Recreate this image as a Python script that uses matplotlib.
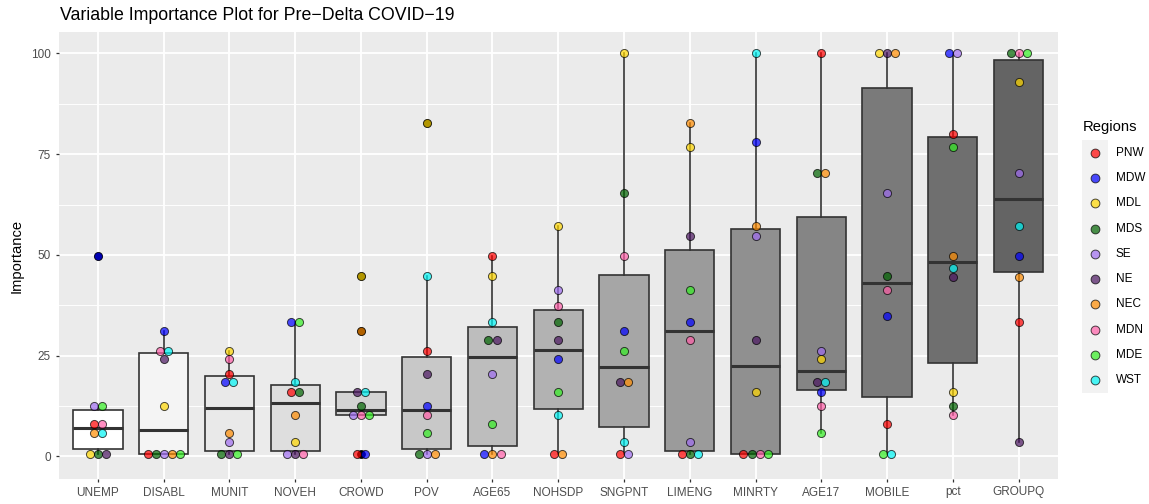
import matplotlib
matplotlib.use("Agg")
import matplotlib.pyplot as plt
import numpy as np

plt.rcParams["font.family"] = ["Liberation Sans", "DejaVu Sans"]

# ---- data -------------------------------------------------------------
categories = ["UNEMP", "DISABL", "MUNIT", "NOVEH", "CROWD", "POV", "AGE65",
              "NOHSDP", "SNGPNT", "LIMENG", "MINRTY", "AGE17", "MOBILE",
              "pct", "GROUPQ"]

regions = ["PNW", "MDW", "MDL", "MDS", "SE", "NE", "NEC", "MDN", "MDE", "WST"]
region_colors = ["#ff0000", "#0000ff", "#ffd700", "#006400", "#9f6cf0",
                 "#4a1560", "#ff8c00", "#ff5fa8", "#33ee22", "#00f5f5"]

# importance per region, in category order
pnw = [8.1, 0.6, 20.35, 15.96, 0.6, 26.05, 49.7, 0.6, 0.6, 0.6, 0.6, 100, 8.1, 80.0, 33.25]
mdw = [49.7, 31.1, 18.36, 33.25, 0.6, 12.5, 0.6, 24.07, 31.1, 33.25, 78.0, 15.96, 34.9, 100, 49.7]
mdl = [0.6, 12.5, 26.05, 3.6, 44.67, 82.8, 44.67, 57.15, 100, 76.75, 15.96, 24.07, 100, 15.96, 93.0]
mds = [0.6, 0.6, 0.6, 15.96, 12.5, 0.6, 28.8, 33.25, 65.4, 0.6, 0.6, 70.4, 44.67, 12.5, 100]
se = [12.5, 0.6, 3.6, 0.6, 10.4, 0.6, 20.35, 41.4, 0.6, 3.6, 54.6, 26.05, 65.4, 100, 70.4]
ne = [0.6, 24.07, 0.6, 0.6, 15.96, 20.35, 28.8, 28.8, 18.36, 54.6, 28.8, 18.36, 100, 44.6, 3.6]
nec = [5.9, 0.6, 5.9, 10.4, 31.1, 0.6, 0.6, 0.6, 18.36, 82.8, 57.15, 70.4, 100, 49.7, 44.6]
mdn = [8.1, 26.05, 24.07, 0.6, 10.4, 10.4, 0.6, 37.3, 49.7, 28.8, 0.6, 12.5, 41.4, 10.4, 100]
mde = [12.5, 0.6, 0.6, 33.25, 10.4, 5.9, 8.1, 15.96, 26.05, 41.4, 0.6, 5.9, 0.6, 76.75, 100]
wst = [5.9, 26.05, 18.36, 18.36, 15.96, 44.67, 33.25, 10.4, 3.6, 0.6, 100, 18.36, 0.6, 46.65, 57.15]

values = np.array([pnw, mdw, mdl, mds, se, ne, nec, mdn, mde, wst])
n_reg, n_cat = values.shape

# ---- figure -----------------------------------------------------------
W, H = 1149, 504
fig = plt.figure(figsize=(W / 100, H / 100), dpi=100)
px_l, px_r, px_t, px_b = 58.5, 1058, 32, 479
ax = fig.add_axes([px_l / W, 1 - px_b / H, (px_r - px_l) / W, (px_b - px_t) / H])
ax.set_facecolor("#EBEBEB")
for s in ax.spines.values():
    s.set_visible(False)

ax.set_xlim(-0.6, n_cat - 0.4)
ax.set_ylim(-5.6, 105.3)
ax.set_yticks([0, 25, 50, 75, 100])
ax.set_yticks([12.5, 37.5, 62.5, 87.5], minor=True)
ax.set_xticks(range(n_cat))
ax.set_xticklabels(categories)
ax.grid(which="major", color="white", lw=1.3)
ax.grid(which="minor", axis="y", color="white", lw=0.65)
ax.set_axisbelow(True)
ax.tick_params(which="major", length=2.4, width=0.9, color="#333333",
               labelcolor="#4D4D4D", labelsize=8.5, pad=3)
ax.tick_params(which="minor", length=0)

# ---- boxes ------------------------------------------------------------
greys = np.linspace(255, 100, n_cat) / 255.0
bp = ax.boxplot([values[:, j] for j in range(n_cat)], positions=range(n_cat),
                widths=0.75, patch_artist=True, showcaps=False, whis=1.5,
                manage_ticks=False,
                flierprops=dict(marker="o", markerfacecolor="black",
                                markeredgecolor="black", markersize=5),
                medianprops=dict(color="#333333", lw=2.2),
                boxprops=dict(edgecolor="#333333", lw=1.2),
                whiskerprops=dict(color="#333333", lw=1.2))
for patch, g in zip(bp["boxes"], greys):
    patch.set_facecolor((g, g, g))

# ---- points, spread sideways where values coincide ---------------------
step = 0.122
offsets = np.zeros_like(values, dtype=float)
for j in range(n_cat):
    col = values[:, j]
    order = np.argsort(col, kind="stable")
    groups, cur = [], [order[0]]
    for k in order[1:]:
        if abs(col[k] - col[cur[-1]]) < 1.0:
            cur.append(k)
        else:
            groups.append(cur)
            cur = [k]
    groups.append(cur)
    for g in groups:
        g = sorted(g)
        for i, k in enumerate(g):
            offsets[k, j] = (i - (len(g) - 1) / 2) * step

xs = np.arange(n_cat)
for r in range(n_reg):
    ax.scatter(xs + offsets[r], values[r], s=34, color=region_colors[r],
               alpha=0.7, edgecolors="black", linewidths=0.7, zorder=3)

# ---- text -------------------------------------------------------------
fig.text(60 / W, 1 - 20 / H, "Variable Importance Plot for Pre\u2212Delta COVID\u221219",
         fontsize=12.8, va="baseline", ha="left", color="black")
fig.text(17 / W, 1 - (px_t + px_b) / 2 / H, "Importance", rotation=90,
         fontsize=10.6, va="center", ha="center", color="black")

# ---- legend -----------------------------------------------------------
fig.text(1083 / W, 1 - 130.5 / H, "Regions", fontsize=10.6, va="baseline",
         ha="left", color="black")
key_l, key_w, key_t, key_h = 1082, 26, 140, 253
lax = fig.add_axes([key_l / W, 1 - (key_t + key_h) / H, key_w / W, key_h / H])
lax.set_facecolor("#F2F2F2")
lax.set_xlim(0, 1)
lax.set_ylim(n_reg, 0)
lax.set_xticks([])
lax.set_yticks([])
for s in lax.spines.values():
    s.set_visible(False)
for r in range(n_reg):
    lax.scatter([0.5], [r + 0.5], s=40, color=region_colors[r], alpha=0.7,
                edgecolors="black", linewidths=0.7, clip_on=False)
    lax.text(1.3, r + 0.5, regions[r], fontsize=8.5, va="center", ha="left",
             color="black", transform=lax.transData, clip_on=False)

fig.savefig("out.png", dpi=100)
